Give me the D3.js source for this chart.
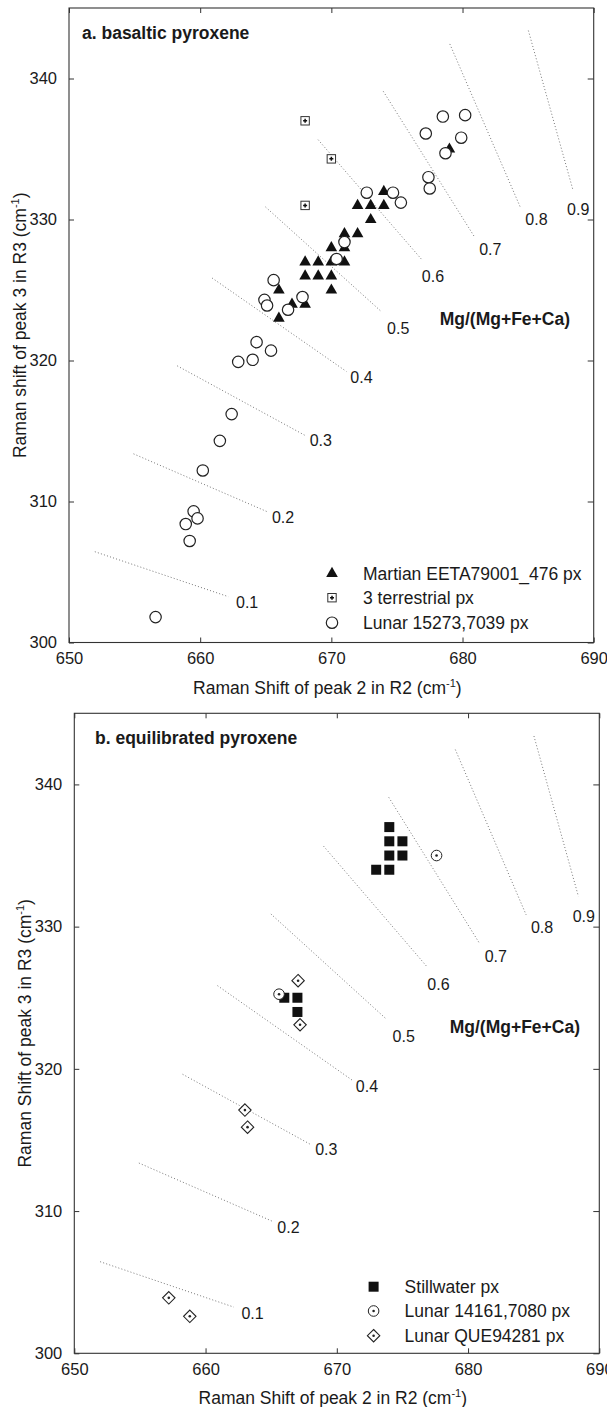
<!DOCTYPE html>
<html>
<head>
<meta charset="utf-8">
<script src="https://cdn.jsdelivr.net/npm/d3@7"></script>
<style>
  body { margin: 0; background: #fff; }
  svg text { font-family: "Liberation Sans", Arial, sans-serif; fill: #1a1a1a; }
</style>
</head>
<body>
<svg id="chart"></svg>
<script>
// ---- data (cm-1) ----
const xTicks = [650, 660, 670, 680, 690];
const yTicks = [300, 310, 320, 330, 340];

// Mg/(Mg+Fe+Ca) iso-lines: start, end and label anchor
const isoValues = ['0.1', '0.2', '0.3', '0.4', '0.5', '0.6', '0.7', '0.8', '0.9'];
const isoStartX = [651.97, 654.92, 658.25, 660.91, 664.98, 668.99, 673.96, 679.03, 685.02];
const isoStartY = [306.44, 313.38, 319.62, 325.85, 330.89, 335.66, 339.09, 342.45, 343.4];
const isoEndX = [662.15, 665.1, 668.05, 671.15, 673.8, 676.9, 680.89, 684.43, 688.41];
const isoEndY = [303.25, 309.28, 314.66, 319.22, 323.48, 327.15, 328.8, 330.82, 332.12];
const isoLabelX = [662.73, 665.47, 668.35, 671.45, 674.25, 676.9, 681.27, 684.79, 687.97];
const isoLabelY = [302.82, 308.86, 314.37, 318.79, 322.3, 325.96, 327.9, 329.99, 330.7];

// panel a
const martianX = [674, 672, 673, 674, 673, 671, 672, 670, 671, 668, 669, 670, 671, 668, 669, 670, 670, 666, 667, 668, 666, 679];
const martianY = [332, 331, 331, 331, 330, 329, 329, 328, 328, 327, 327, 327, 327, 326, 326, 326, 325, 325, 324, 324, 323, 335];
const terrestrialX = [668, 670, 668];
const terrestrialY = [337, 334.3, 331];
const lunar15273X = [672.7, 674.7, 675.3, 671.0, 670.4, 665.6, 664.9, 665.1, 667.8, 666.7,
    678.5, 680.2, 677.2, 679.9, 678.7, 677.4, 677.5,
    664.3, 665.4, 664.0, 662.9, 662.4, 661.5, 660.2,
    659.5, 658.9, 659.8, 659.2, 656.6];
const lunar15273Y = [331.9, 331.9, 331.2, 328.4, 327.2, 325.7, 324.3, 323.9, 324.5, 323.6,
    337.3, 337.4, 336.1, 335.8, 334.7, 333.0, 332.2,
    321.3, 320.7, 320.05, 319.9, 316.2, 314.3, 312.2,
    309.3, 308.4, 308.8, 307.2, 301.8];

// panel b
const stillwaterX = [674, 674, 675, 674, 675, 673, 674, 666, 667, 667];
const stillwaterY = [337, 336, 336, 335, 335, 334, 334, 325, 325, 324];
const lunar14161X = [677.6, 665.6];
const lunar14161Y = [335, 325.25];
const que94281X = [667.05, 667.2, 663.0, 663.2, 657.2, 658.8];
const que94281Y = [326.2, 323.1, 317.1, 315.9, 303.9, 302.6];

// ---- markers ----
function marker(g, type, cx, cy) {
    const m = g.append('g').attr('transform', `translate(${cx}, ${cy})`);
    if (type === 'triangle') {
        m.append('path').attr('d', 'M0,-6.6L5.8,3.6L-5.8,3.6Z').attr('fill', '#111');
    } else if (type === 'circle') {
        m.append('circle').attr('r', 5.7).attr('fill', '#fff').attr('stroke', '#222').attr('stroke-width', 1.2);
    } else if (type === 'boxplus') {
        m.append('rect').attr('x', -4.2).attr('y', -4.2).attr('width', 8.4).attr('height', 8.4)
            .attr('fill', '#fff').attr('stroke', '#333').attr('stroke-width', 1);
        m.append('path').attr('d', 'M-2,0H2M0,-2V2').attr('stroke', '#111').attr('stroke-width', 1.5);
    } else if (type === 'square') {
        m.append('rect').attr('x', -5).attr('y', -5).attr('width', 10).attr('height', 10).attr('fill', '#111');
    } else if (type === 'circledot') {
        m.append('circle').attr('r', 5.3).attr('fill', '#fff').attr('stroke', '#222').attr('stroke-width', 1);
        m.append('circle').attr('r', 1.3).attr('fill', '#222');
    } else if (type === 'diamond') {
        m.append('path').attr('d', 'M0,-6.2L6.2,0L0,6.2L-6.2,0Z')
            .attr('fill', '#fff').attr('stroke', '#222').attr('stroke-width', 1.1);
        m.append('circle').attr('r', 1.3).attr('fill', '#222');
    }
}

const svg = d3.select('#chart').attr('width', 607).attr('height', 1407);

const panels = [
    {
        left: 69, right: 593.7, top: 8, bottom: 642.5,
        title: 'a. basaltic pyroxene', titleX: 82,
        yTitle: 'Raman shift of peak 3 in R3 (cm',
        mgRight: 570, mgY: 324.5,
        legendSymX: 332, legendTextX: 363, legendRows: [-69.2, -44.8, -19.8],
        series: [
            { name: 'Martian EETA79001_476 px', type: 'triangle', xs: martianX, ys: martianY },
            { name: '3 terrestrial px', type: 'boxplus', xs: terrestrialX, ys: terrestrialY },
            { name: 'Lunar 15273,7039 px', type: 'circle', xs: lunar15273X, ys: lunar15273Y }
        ]
    },
    {
        left: 74.3, right: 599.3, top: 713.3, bottom: 1353.3,
        title: 'b. equilibrated pyroxene', titleX: 95,
        yTitle: 'Raman Shift of peak 3 in R3 (cm',
        mgRight: 580, mgY: 1033,
        legendSymX: 373.6, legendTextX: 404.6, legendRows: [-66.6, -42.3, -17.6],
        series: [
            { name: 'Stillwater px', type: 'square', xs: stillwaterX, ys: stillwaterY },
            { name: 'Lunar 14161,7080 px', type: 'circledot', xs: lunar14161X, ys: lunar14161Y },
            { name: 'Lunar QUE94281 px', type: 'diamond', xs: que94281X, ys: que94281Y }
        ]
    }
];

panels.forEach(p => {
    const x = d3.scaleLinear().domain([650, 690]).range([p.left, p.right]);
    const y = d3.scaleLinear().domain([300, 345]).range([p.bottom, p.top]);
    const g = svg.append('g');

    // iso-lines
    isoValues.forEach((v, i) => {
        g.append('line')
            .attr('x1', x(isoStartX[i])).attr('y1', y(isoStartY[i]))
            .attr('x2', x(isoEndX[i])).attr('y2', y(isoEndY[i]))
            .attr('stroke', '#777').attr('stroke-width', 1)
            .attr('stroke-dasharray', '1,2.2');
        g.append('text')
            .attr('x', x(isoLabelX[i])).attr('y', y(isoLabelY[i]))
            .attr('dy', '0.36em')
            .attr('font-size', 16)
            .text(v);
    });

    // axes (inward ticks, labels outside)
    g.append('g').attr('transform', `translate(0, ${p.bottom})`)
        .call(d3.axisBottom(x).tickValues(xTicks).tickSizeInner(-5).tickSizeOuter(0).tickPadding(10).tickFormat(d3.format('d')))
        .call(a => a.select('.domain').remove())
        .call(a => a.selectAll('text').attr('font-size', 16.5).attr('font-family', null));
    g.append('g').attr('transform', `translate(0, ${p.top})`)
        .call(d3.axisTop(x).tickValues(xTicks).tickSizeInner(-5).tickSizeOuter(0).tickFormat(''))
        .call(a => a.select('.domain').remove());
    g.append('g').attr('transform', `translate(${p.left}, 0)`)
        .call(d3.axisLeft(y).tickValues(yTicks).tickSizeInner(-5).tickSizeOuter(0).tickPadding(12).tickFormat(d3.format('d')))
        .call(a => a.select('.domain').remove())
        .call(a => a.selectAll('text').attr('font-size', 16.5).attr('font-family', null));
    g.append('g').attr('transform', `translate(${p.right}, 0)`)
        .call(d3.axisRight(y).tickValues(yTicks).tickSizeInner(-6).tickSizeOuter(0).tickFormat(''))
        .call(a => a.select('.domain').remove());
    g.selectAll('.tick line').attr('stroke', '#333');

    g.append('rect')
        .attr('x', p.left).attr('y', p.top)
        .attr('width', p.right - p.left).attr('height', p.bottom - p.top)
        .attr('fill', 'none').attr('stroke', '#333').attr('stroke-width', 1.1);

    // points
    p.series.forEach(s => {
        const sg = g.append('g');
        s.xs.forEach((v, i) => marker(sg, s.type, x(v), y(s.ys[i])));
    });

    // titles
    g.append('text').attr('x', p.titleX).attr('y', p.top + 31)
        .attr('font-size', 17.5).attr('font-weight', 'bold').text(p.title);
    g.append('text').attr('x', p.mgRight).attr('y', p.mgY)
        .attr('text-anchor', 'end').attr('font-size', 17.5).attr('font-weight', 'bold')
        .text('Mg/(Mg+Fe+Ca)');

    const xt = g.append('text')
        .attr('x', (p.left + p.right) / 2 - 4).attr('y', p.bottom + 51)
        .attr('text-anchor', 'middle').attr('font-size', 17.5)
        .text('Raman Shift of peak 2 in R2 (cm');
    xt.append('tspan').attr('font-size', 11).attr('dy', -7).text('-1');
    xt.append('tspan').attr('dy', 7).text(')');

    const yt = g.append('text')
        .attr('transform', `translate(${p.left - 43}, ${(p.top + p.bottom) / 2}) rotate(-90)`)
        .attr('text-anchor', 'middle').attr('font-size', 17.5)
        .text(p.yTitle);
    yt.append('tspan').attr('font-size', 11).attr('dy', -7).text('-1');
    yt.append('tspan').attr('dy', 7).text(')');

    // legend
    p.series.forEach((s, i) => {
        const ly = p.bottom + p.legendRows[i];
        marker(g, s.type, p.legendSymX, ly);
        g.append('text').attr('x', p.legendTextX).attr('y', ly).attr('dy', '0.36em')
            .attr('font-size', 17.5).text(s.name);
    });
});
</script>
</body>
</html>
